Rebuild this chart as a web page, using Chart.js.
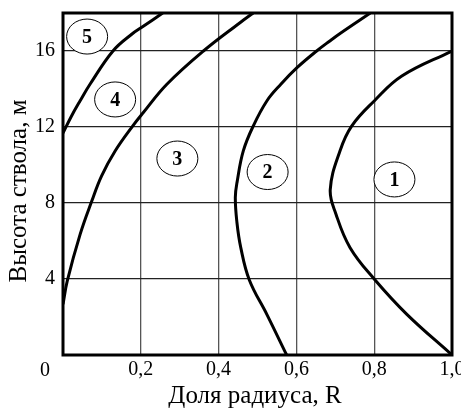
<!DOCTYPE html>
<html>
<head>
<meta charset="utf-8">
<script src="https://cdn.jsdelivr.net/npm/chart.js@4"></script>
<style>
  body { margin: 0; background: #fff; }
  #wrap { width: 461px; height: 408px; }
</style>
</head>
<body>
<div id="wrap"><canvas id="zones" width="461" height="408"></canvas></div>
<script>
// Оси
const xTicks = [0, 0.2, 0.4, 0.6, 0.8, 1.0];
const yTicks = [0, 4, 8, 12, 16];

// Границы зон: доля радиуса (x) и высота ствола, м (y)
const border12X = [1.0, 0.884, 0.8, 0.738, 0.702, 0.687, 0.712, 0.742, 0.8, 0.871, 1.0];
const border12Y = [0, 2.14, 4, 5.65, 7.4, 8.7, 10.74, 12.05, 13.37, 14.68, 16];

const border23X = [0.575, 0.524, 0.479, 0.457, 0.447, 0.443, 0.448, 0.4635, 0.489, 0.524, 0.560, 0.6015, 0.652, 0.686, 0.715, 0.79];
const border23Y = [0, 2.14, 3.95, 5.65, 7, 8.3, 9.16, 10.74, 12.05, 13.37, 14.25, 15.12, 16, 16.53, 16.96, 18];

const border34X = [0, 0.011, 0.044, 0.074, 0.099, 0.134, 0.179, 0.206, 0.267, 0.361, 0.455, 0.489];
const border34Y = [2.67, 3.9, 6.35, 8.1, 9.42, 10.74, 12.05, 12.75, 14.25, 16, 17.49, 18];

const border45X = [0, 0.0206, 0.0437, 0.0694, 0.1285, 0.1766, 0.2064, 0.2563];
const border45Y = [11.68, 12.53, 13.37, 14.25, 16, 16.88, 17.3, 18];

// Номера зон
const zoneNames = ['1', '2', '3', '4', '5'];
const zoneX = [0.852, 0.526, 0.294, 0.134, 0.062];
const zoneY = [9.24, 9.63, 10.34, 13.45, 16.76];

const serif = "'Liberation Serif', 'Times New Roman', serif";

function toPoints(xs, ys) {
    return xs.map((x, i) => ({ x: x, y: ys[i] }));
}

function curve(xs, ys) {
    return {
        type: 'line',
        data: toPoints(xs, ys),
        borderColor: '#000',
        borderWidth: 3,
        pointRadius: 0,
        fill: false,
        tension: 0.4
    };
}

// подписи не должны раздвигать область графика
function noLabelPadding(scale) {
    scale.paddingLeft = 0;
    scale.paddingRight = 0;
    scale.paddingTop = 0;
    scale.paddingBottom = 0;
}

// рамка, номера зон в кружках и подписи осей
const decorations = {
    id: 'decorations',
    afterDatasetsDraw(chart) {
        const ctx = chart.ctx;
        const area = chart.chartArea;
        const xs = chart.scales.x;
        const ys = chart.scales.y;
        ctx.save();

        ctx.strokeStyle = '#000';
        ctx.lineWidth = 3;
        ctx.strokeRect(area.left, area.top, area.right - area.left, area.bottom - area.top);

        ctx.lineWidth = 1;
        ctx.fillStyle = '#000';
        ctx.textAlign = 'center';
        ctx.textBaseline = 'middle';
        ctx.font = 'bold 20px ' + serif;
        zoneNames.forEach((name, i) => {
            const px = xs.getPixelForValue(zoneX[i]);
            const py = ys.getPixelForValue(zoneY[i]);
            ctx.fillStyle = '#fff';
            ctx.beginPath();
            ctx.ellipse(px, py, 20.5, 17.5, 0, 0, Math.PI * 2);
            ctx.fill();
            ctx.stroke();
            ctx.fillStyle = '#000';
            ctx.fillText(name, px, py + 1);
        });

        ctx.font = '20px ' + serif;
        ctx.fillText('0', xs.getPixelForValue(0) - 18, 371);

        ctx.font = '25px ' + serif;
        ctx.fillText('Доля радиуса, R', 255, 396);

        ctx.translate(19, 191);
        ctx.rotate(-Math.PI / 2);
        ctx.fillText('Высота ствола, м', 0, 0);
        ctx.restore();
    }
};

new Chart(document.getElementById('zones'), {
    type: 'scatter',
    data: {
        datasets: [
            curve(border12X, border12Y),
            curve(border23X, border23Y),
            curve(border34X, border34Y),
            curve(border45X, border45Y)
        ]
    },
    options: {
        responsive: false,
        animation: false,
        layout: { padding: { left: 0, right: 9, top: 13, bottom: 0 } },
        plugins: { legend: { display: false }, tooltip: { enabled: false } },
        scales: {
            x: {
                type: 'linear',
                min: 0,
                max: 1,
                afterBuildTicks: scale => { scale.ticks = xTicks.map(v => ({ value: v })); },
                afterFit: scale => { scale.height = 53; noLabelPadding(scale); },
                border: { display: false },
                grid: { color: '#555', lineWidth: 1.3, drawTicks: false },
                ticks: {
                    padding: 3,
                    color: '#000',
                    font: { family: serif, size: 20 },
                    callback: v => v === 0 ? '' : v.toFixed(1).replace('.', ',')
                }
            },
            y: {
                type: 'linear',
                min: 0,
                max: 18,
                afterBuildTicks: scale => { scale.ticks = yTicks.map(v => ({ value: v })); },
                afterFit: scale => { scale.width = 63; noLabelPadding(scale); },
                border: { display: false },
                grid: { color: '#222', lineWidth: 1.2, drawTicks: false },
                ticks: {
                    padding: 8,
                    color: '#000',
                    font: { family: serif, size: 20 },
                    callback: v => v === 0 ? '' : String(v)
                }
            }
        }
    },
    plugins: [decorations]
});
</script>
</body>
</html>
